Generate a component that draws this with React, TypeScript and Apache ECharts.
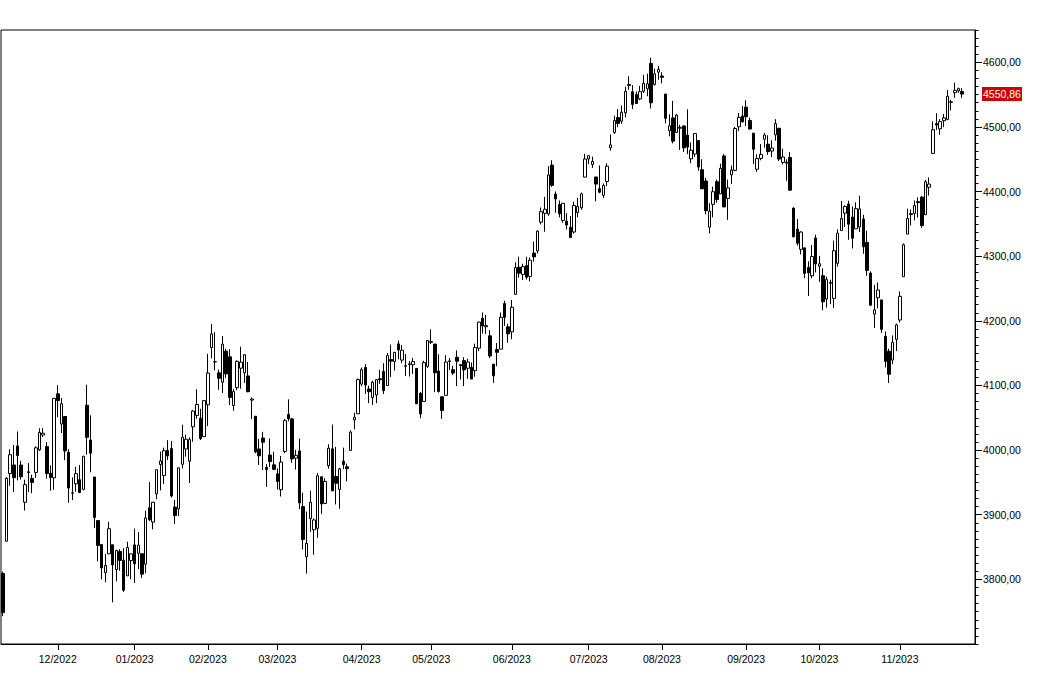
import React, { useEffect, useRef } from 'react';
import * as echarts from 'echarts';

// Trading days (categories)
const dates: string[] = [
  '2022-11-09','2022-11-10','2022-11-11','2022-11-14','2022-11-15','2022-11-16','2022-11-17','2022-11-18','2022-11-21','2022-11-22','2022-11-23','2022-11-25','2022-11-28','2022-11-29','2022-11-30',
  '2022-12-01','2022-12-02','2022-12-05','2022-12-06','2022-12-07','2022-12-08','2022-12-09','2022-12-12','2022-12-13','2022-12-14','2022-12-15','2022-12-16','2022-12-19','2022-12-20','2022-12-21','2022-12-22','2022-12-23','2022-12-27','2022-12-28','2022-12-29','2022-12-30',
  '2023-01-03','2023-01-04','2023-01-05','2023-01-06','2023-01-09','2023-01-10','2023-01-11','2023-01-12','2023-01-13','2023-01-17','2023-01-18','2023-01-19','2023-01-20','2023-01-23','2023-01-24','2023-01-25','2023-01-26','2023-01-27','2023-01-30','2023-01-31',
  '2023-02-01','2023-02-02','2023-02-03','2023-02-06','2023-02-07','2023-02-08','2023-02-09','2023-02-10','2023-02-13','2023-02-14','2023-02-15','2023-02-16','2023-02-17','2023-02-21','2023-02-22','2023-02-23','2023-02-24','2023-02-27','2023-02-28',
  '2023-03-01','2023-03-02','2023-03-03','2023-03-06','2023-03-07','2023-03-08','2023-03-09','2023-03-10','2023-03-13','2023-03-14','2023-03-15','2023-03-16','2023-03-17','2023-03-20','2023-03-21','2023-03-22','2023-03-23','2023-03-24','2023-03-27','2023-03-28','2023-03-29','2023-03-30','2023-03-31',
  '2023-04-03','2023-04-04','2023-04-05','2023-04-06','2023-04-10','2023-04-11','2023-04-12','2023-04-13','2023-04-14','2023-04-17','2023-04-18','2023-04-19','2023-04-20','2023-04-21','2023-04-24','2023-04-25','2023-04-26','2023-04-27','2023-04-28',
  '2023-05-01','2023-05-02','2023-05-03','2023-05-04','2023-05-05','2023-05-08','2023-05-09','2023-05-10','2023-05-11','2023-05-12','2023-05-15','2023-05-16','2023-05-17','2023-05-18','2023-05-19','2023-05-22','2023-05-23','2023-05-24','2023-05-25','2023-05-26','2023-05-30','2023-05-31',
  '2023-06-01','2023-06-02','2023-06-05','2023-06-06','2023-06-07','2023-06-08','2023-06-09','2023-06-12','2023-06-13','2023-06-14','2023-06-15','2023-06-16','2023-06-20','2023-06-21','2023-06-22','2023-06-23','2023-06-26','2023-06-27','2023-06-28','2023-06-29','2023-06-30',
  '2023-07-03','2023-07-05','2023-07-06','2023-07-07','2023-07-10','2023-07-11','2023-07-12','2023-07-13','2023-07-14','2023-07-17','2023-07-18','2023-07-19','2023-07-20','2023-07-21','2023-07-24','2023-07-25','2023-07-26','2023-07-27','2023-07-28','2023-07-31',
  '2023-08-01','2023-08-02','2023-08-03','2023-08-04','2023-08-07','2023-08-08','2023-08-09','2023-08-10','2023-08-11','2023-08-14','2023-08-15','2023-08-16','2023-08-17','2023-08-18','2023-08-21','2023-08-22','2023-08-23','2023-08-24','2023-08-25','2023-08-28','2023-08-29','2023-08-30','2023-08-31',
  '2023-09-01','2023-09-05','2023-09-06','2023-09-07','2023-09-08','2023-09-11','2023-09-12','2023-09-13','2023-09-14','2023-09-15','2023-09-18','2023-09-19','2023-09-20','2023-09-21','2023-09-22','2023-09-25','2023-09-26','2023-09-27','2023-09-28','2023-09-29',
  '2023-10-02','2023-10-03','2023-10-04','2023-10-05','2023-10-06','2023-10-09','2023-10-10','2023-10-11','2023-10-12','2023-10-13','2023-10-16','2023-10-17','2023-10-18','2023-10-19','2023-10-20','2023-10-23','2023-10-24','2023-10-25','2023-10-26','2023-10-27','2023-10-30','2023-10-31',
  '2023-11-01','2023-11-02','2023-11-03','2023-11-06','2023-11-07','2023-11-08','2023-11-09','2023-11-10','2023-11-13','2023-11-14','2023-11-15','2023-11-16','2023-11-17','2023-11-20','2023-11-21','2023-11-22','2023-11-24','2023-11-27',
];

const open: number[] = [
  3809,3859,3963.7,3977,4006.4,3976.8,3919.3,3966.4,3956.2,3965.5,4000.3,4023.3,4005.4,3964.2,3957.2,
  4087.1,4040.2,4052,3996.6,3933.3,3947.8,3954.2,3939.3,4069.4,4015.5,3958.4,3890.9,3853.8,3810.5,3839.5,3853.6,3815.1,3843.3,3829.6,3805.5,3829.1,
  3853.3,3840.4,3839.7,3823.4,3910.8,3888.6,3932.4,3977.6,3960.6,3999.3,4002.3,3911.8,3909,3978.1,4001.7,3982.7,4036.1,4053.7,4049.3,4020.9,
  4070.1,4158.7,4136.7,4119.6,4105,4153.1,4144.3,4068.9,4096.6,4126.7,4119.5,4114.8,4077.4,4052.4,4001.8,4018.6,3973.2,3992.4,3977.2,
  3963.3,3938.7,3998,4055.2,4048.3,3987.6,3998.7,3912.8,3835.1,3894,3876.7,3878.9,3958.7,3917.5,3975.9,4002,3959.2,3939.2,3982.9,3974.1,3999.5,4046.7,4056.2,
  4102.2,4128,4094.5,4081.2,4085.2,4110.3,4121.7,4100,4140.1,4137.2,4164.3,4139.3,4130.5,4132.1,4132.1,4126.4,4087.8,4075.3,4129.6,
  4166.8,4164.1,4122.3,4082.6,4084.7,4137,4124.3,4143.7,4132.2,4138.5,4126.6,4128,4122.9,4157.7,4204.2,4190.8,4176.8,4133,4155.7,4156.2,4226.7,4190.7,
  4183,4241,4283,4271.6,4285.5,4268.7,4304.9,4308.3,4352.6,4366.3,4365.3,4441,4396.1,4380,4355.4,4354.2,4344.8,4337.4,4367.5,4374.9,4422.4,
  4450.5,4442,4422.6,4404.5,4394.2,4415.6,4467.7,4491.5,4514.6,4508.9,4521.8,4563.9,4554.4,4550.2,4543.4,4555.2,4559,4598.3,4565.8,4584.8,
  4578.8,4550.9,4494.3,4514,4491.6,4498,4501.6,4487.4,4450.7,4458.1,4478.9,4433.8,4416.3,4344.9,4380.3,4415.3,4396.4,4455.2,4389.4,4426,4432.8,4500.3,4517,
  4530.6,4510.1,4490.4,4434.6,4451.3,4481,4473.3,4462.7,4487.8,4498,4445.1,4445.4,4452.8,4374.4,4341.7,4310.6,4312.9,4282.6,4269.7,4328.2,
  4284.5,4269.8,4233.8,4259.3,4234.8,4289,4339.8,4366.6,4380.9,4360.5,4342.4,4345.2,4357.4,4321.4,4273.9,4210.4,4235.8,4232.4,4176,4152.9,4139.4,4171.3,
  4201.3,4268.3,4334.2,4364.3,4366.2,4384.4,4391.4,4364.2,4406.7,4459,4505.3,4497.1,4509.6,4511.7,4538.8,4553,4555.8,4554.9,
];

const close: number[] = [
  3748.6,3956.4,3992.9,3957.3,3991.7,3958.8,3946.6,3965.3,3949.9,4003.6,4027.3,4026.1,3963.9,3957.6,4080.1,
  4076.6,4071.7,3998.8,3941.3,3933.9,3963.5,3934.4,3990.6,4019.7,3995.3,3895.8,3852.4,3817.7,3821.6,3878.4,3822.4,3844.8,3829.3,3783.2,3849.3,3839.5,
  3824.1,3853,3808.1,3895.1,3892.1,3919.3,3969.6,3983.2,3999.1,3991,3928.9,3898.9,3972.6,4019.8,4016.9,4016.2,4060.4,4070.6,4017.8,4076.6,
  4119.2,4179.8,4136.5,4111.1,4164,4117.9,4081.5,4090.5,4137.3,4136.1,4147.6,4090.4,4079.1,3997.3,3991.1,4012.3,3970,3982.2,3970.2,
  3951.4,3981.4,4045.6,4048.4,3986.4,3992,3918.3,3861.6,3855.8,3919.3,3891.9,3960.3,3916.6,3951.6,4002.9,3937,3948.7,3971,3977.5,3971.3,4027.8,4050.8,4109.3,
  4124.5,4100.6,4090.4,4105,4109.1,4108.9,4092,4146.2,4137.6,4151.3,4154.9,4154.5,4129.8,4133.5,4137,4071.6,4056,4135.4,4169.5,
  4167.9,4119.6,4090.8,4061.2,4136.3,4138.1,4119.2,4137.6,4130.6,4124.1,4136.3,4109.9,4158.8,4198.1,4192,4192.6,4145.6,4115.2,4151.3,4205.5,4205.5,4179.8,
  4221,4282.4,4273.8,4283.9,4267.5,4293.9,4298.9,4338.9,4369,4372.6,4425.8,4409.6,4388.7,4365.7,4381.9,4348.3,4328.8,4378.4,4376.9,4396.4,4450.4,
  4455.6,4446.8,4411.6,4399,4409.5,4439.3,4472.2,4510,4505.4,4522.8,4555,4565.7,4534.9,4536.3,4554.6,4567.5,4566.8,4537.4,4582.2,4589,
  4576.7,4513.4,4501.9,4478,4518.4,4499.4,4467.7,4468.8,4464,4489.7,4437.9,4404.3,4370.4,4369.7,4399.8,4387.6,4436,4376.3,4405.7,4433.3,4497.6,4514.9,4507.7,
  4515.8,4496.8,4465.5,4451.1,4457.5,4487.5,4461.9,4467.4,4505.1,4450.3,4453.5,4444,4402.2,4330,4320.1,4337.4,4273.5,4274.5,4299.7,4288.1,
  4288.4,4229.5,4263.8,4258.2,4308.5,4335.7,4358.2,4377,4349.6,4327.8,4373.6,4373.2,4314.6,4278,4224.2,4217,4247.7,4186.8,4137.2,4117.4,4166.8,4193.8,
  4237.9,4317.8,4358.3,4366,4378.4,4382.8,4347.4,4415.2,4411.6,4495.7,4502.9,4508.2,4514,4547.4,4538.2,4556.6,4559.3,4550.86,
];

const low: number[] = [
  3743,3859,3944.8,3935,3953.2,3954.3,3906.5,3935.1,3933.3,3956.9,3998.7,4020.3,3955.8,3937.2,3938.6,
  4050.9,4026.6,3984.5,3918.4,3922.7,3935.8,3933.4,3937.7,3993,3965.7,3879.5,3827.9,3800,3795.6,3839.5,3764.5,3797,3813.3,3780.8,3805.5,3800.3,
  3794.3,3815.8,3802.4,3809.6,3890.4,3877.3,3924.1,3937.7,3947.7,3984.6,3926.6,3885.5,3897.9,3971.6,3989.8,3949.1,4013,4048.7,4015.6,4020.4,
  4037.2,4141.9,4123.4,4093.4,4088.4,4111.7,4069.7,4060.8,4092.7,4095,4104,4089.5,4048,3995.2,3976.9,3969.2,3943.1,3973.6,3969,
  3939,3928.2,3995.2,4044.6,3980.3,3969.8,3908.7,3846.3,3808.9,3873.6,3838.2,3864.1,3901.3,3916.9,3971.2,3936.2,3916,3909.2,3970.5,3951.5,3999.5,4032.1,4056.2,
  4098.8,4086.9,4072.6,4069.8,4072.6,4102.6,4086.9,4099.4,4113.2,4123.2,4140.4,4134.5,4114.6,4113.9,4117.8,4071.4,4049.4,4075.3,4127.2,
  4164.1,4089.7,4088.9,4048.3,4084.7,4123.8,4116.1,4098.9,4109.3,4099.1,4110.3,4109.9,4113.6,4153.1,4180.2,4179.7,4142.3,4104,4129.7,4156.2,4192.2,4166.2,
  4171.6,4241,4266.8,4263.1,4264,4261.1,4291.6,4304.4,4349.3,4337.9,4362.6,4407.4,4367.2,4360.1,4351.8,4341.3,4328.1,4335,4360.2,4372,4422.4,
  4442.3,4436.6,4385,4397.4,4389.9,4408.5,4463.2,4489.4,4499.6,4504.9,4514.6,4557.5,4527.6,4535.8,4541.3,4552.4,4547.6,4528.6,4564,4573.1,
  4567.5,4505.8,4485.5,4474.6,4491.2,4464.4,4461.3,4457.9,4444,4453.4,4432.2,4403.6,4364.8,4335.3,4360.3,4382.8,4396.4,4375.6,4356.3,4412,4431.7,4493.6,4507.4,
  4501.4,4496,4442.4,4430.5,4448.4,4467.9,4456.8,4453.4,4478.7,4447.2,4442.1,4416.6,4401.4,4329.2,4316.5,4302.7,4266,4238.6,4266,4274.9,
  4260.2,4216.5,4220.5,4225.9,4219.6,4283.8,4339.6,4345.3,4325.4,4312,4342.4,4337.5,4303.8,4269.7,4223,4189.2,4219.4,4181.4,4127.9,4103.8,4132.9,4153.1,
  4197.7,4268.3,4334.2,4347.5,4355.4,4359.8,4343.9,4363.9,4393.8,4459,4495.3,4487.8,4499.7,4510.4,4525.5,4545,4552.8,4545,
];

const high: number[] = [
  3812,3958.3,4001.5,4008,4028.8,3983.4,3954.3,3979.9,3962,4005.9,4033.8,4034,4012.3,3976.3,4080.1,
  4100.5,4080.5,4052.5,4001.5,3957.6,3974.2,3977,3990.7,4101,4053.8,3958.4,3890.9,3854.9,3839.5,3889.3,3853.6,3845.8,3846.7,3848.3,3858.2,3839.9,
  3878.5,3873.2,3839.7,3906.2,3950.6,3919.8,3970.1,3997.8,4003.9,4015.4,4014.2,3922.9,3972.9,4039.3,4023.9,4019.6,4061.6,4094.2,4063.9,4077.2,
  4148.9,4195.4,4182.4,4124.6,4176.5,4156.9,4156.2,4094.4,4138.9,4159.8,4148.1,4136.5,4081.5,4052.4,4017.4,4028.3,3978.3,4018.1,3997.5,
  3971.7,3990.8,4048.3,4078.5,4050,4000.4,4017.8,3934,3905,3937.3,3894.3,3964.5,3958.9,3956.6,4009.1,4039.5,4005,3972.7,4003.8,3979.2,4030.6,4057.9,4110.8,
  4127.7,4133.1,4099.7,4107.3,4109.5,4124.3,4134.4,4150.3,4163.2,4151.7,4169.5,4162.6,4148.6,4138,4142.4,4126.4,4089.7,4138.2,4170.1,
  4186.9,4164.1,4148.3,4082.6,4147,4142.3,4130.4,4154.3,4132.8,4143.7,4141.3,4135.5,4164.7,4198.6,4212.9,4209.2,4185.7,4133,4165.7,4212.9,4231.1,4195.4,
  4232.4,4290.7,4299.3,4288.3,4299.2,4298,4322.6,4340.1,4375.4,4391.8,4439.2,4448.5,4400.2,4386.2,4382.3,4366.6,4362.1,4384.4,4390.4,4398.4,4458.5,
  4456.5,4454.1,4422.6,4440.4,4412.6,4443.6,4488.3,4517.4,4527.8,4532.9,4562.3,4578.4,4564.7,4555,4563.4,4580.6,4582.5,4607.1,4590.2,4594.2,
  4584.6,4550.9,4519.5,4540.3,4519.8,4503.3,4502.4,4527.4,4476.2,4490.3,4478.9,4450,4421.2,4381.8,4407.6,4418.6,4443.2,4458.3,4418.5,4440.2,4500.1,4521.7,4532.3,
  4541.3,4514.3,4490.4,4457.8,4473.5,4490.8,4487.1,4479.4,4512,4498,4466.4,4449.9,4461,4375.7,4357.4,4338.5,4313,4292.1,4317.3,4333.2,
  4300.6,4281.2,4268.5,4263.6,4324.1,4341.7,4385.5,4378.6,4385.9,4377.1,4383.3,4393.6,4364.2,4339.5,4276.6,4255.8,4259.4,4232.4,4183.6,4156.7,4177.5,4195.6,
  4245.6,4319.7,4373.6,4372.2,4386.3,4391.2,4393.4,4418,4421.8,4508.7,4521.2,4512,4520.1,4557.1,4542.1,4568.4,4560.9,4560,
];

const yTickValues: number[] = [3800, 3900, 4000, 4100, 4200, 4300, 4400, 4500, 4600];
const Y_MIN = 3700;
const Y_MAX = 4650;
const MINOR_STEP = 12.5;
const EMPTY_SLOTS = 3;

const fmt = (v: number) => v.toFixed(2).replace('.', ',');

export default function App() {
  const ref = useRef<HTMLDivElement>(null);

  useEffect(() => {
    if (!ref.current) return;
    const chart = echarts.init(ref.current, undefined, { renderer: 'svg' });

    const categories = [...dates, ...Array(EMPTY_SLOTS).fill('')];
    const candles: any[] = dates.map((_, i) => [open[i], close[i], low[i], high[i]]);
    for (let k = 0; k < EMPTY_SLOTS; k++) candles.push('-');

    const monthStart = new Set<number>();
    for (let i = 1; i < dates.length; i++) {
      if (dates[i].slice(0, 7) !== dates[i - 1].slice(0, 7)) monthStart.add(i);
    }
    const minorTicks: number[] = [];
    for (let v = Y_MIN; v <= Y_MAX + 0.001; v += MINOR_STEP) minorTicks.push(v);

    const lastClose = close[close.length - 1];
    const font = "'Liberation Sans', Arial, Helvetica, sans-serif";

    chart.setOption({
      animation: false,
      backgroundColor: '#ffffff',
      grid: {
        left: 1,
        top: 30,
        right: 78,
        bottom: 50,
        show: true,
        borderColor: '#000',
        borderWidth: 1,
        backgroundColor: 'transparent',
      },
      xAxis: {
        type: 'category',
        data: categories,
        boundaryGap: true,
        axisLine: { show: true, onZero: false, lineStyle: { color: '#000', width: 1 } },
        axisTick: {
          show: true,
          alignWithLabel: true,
          length: 6,
          interval: (i: number) => monthStart.has(i),
          lineStyle: { color: '#000', width: 1 },
        },
        axisLabel: {
          show: true,
          interval: (i: number) => monthStart.has(i),
          formatter: (v: string) => (v ? `${v.slice(5, 7)}/${v.slice(0, 4)}` : ''),
          margin: 9,
          color: '#000',
          fontFamily: font,
          fontSize: 10.5,
        },
        splitLine: { show: false },
      },
      yAxis: [
        {
          type: 'value',
          position: 'right',
          min: Y_MIN,
          max: Y_MAX,
          axisLine: { show: true, lineStyle: { color: '#000', width: 1 } },
          axisTick: { show: true, length: 7, customValues: yTickValues, lineStyle: { color: '#000', width: 1 } },
          axisLabel: {
            show: true,
            customValues: yTickValues,
            formatter: (v: number) => fmt(v),
            margin: 8,
            color: '#000',
            fontFamily: font,
            fontSize: 10.5,
          },
          splitLine: { show: false },
        },
        {
          type: 'value',
          position: 'right',
          min: Y_MIN,
          max: Y_MAX,
          axisLine: { show: false },
          axisTick: { show: true, length: 3.5, customValues: minorTicks, lineStyle: { color: '#000', width: 1 } },
          axisLabel: { show: false },
          splitLine: { show: false },
        },
      ],
      series: [
        {
          type: 'candlestick',
          data: candles,
          barWidth: 3,
          yAxisIndex: 0,
          itemStyle: {
            color: '#ffffff',
            color0: '#000000',
            borderColor: '#000000',
            borderColor0: '#000000',
            borderWidth: 1,
          },
          markLine: {
            silent: true,
            symbol: ['none', 'none'],
            lineStyle: { color: 'transparent', width: 0 },
            data: [{ yAxis: lastClose }],
            label: {
              show: true,
              position: 'end',
              formatter: fmt(lastClose),
              color: '#ffffff',
              backgroundColor: '#cc0000',
              padding: [2, 1, 1, 1],
              distance: 7,
              fontFamily: font,
              fontSize: 10.5,
            },
          },
        },
      ],
    });

    return () => chart.dispose();
  }, []);

  return (
    <div
      ref={ref}
      style={{ position: 'fixed', left: 0, top: 0, width: 1053, height: 694, background: '#fff' }}
    />
  );
}
